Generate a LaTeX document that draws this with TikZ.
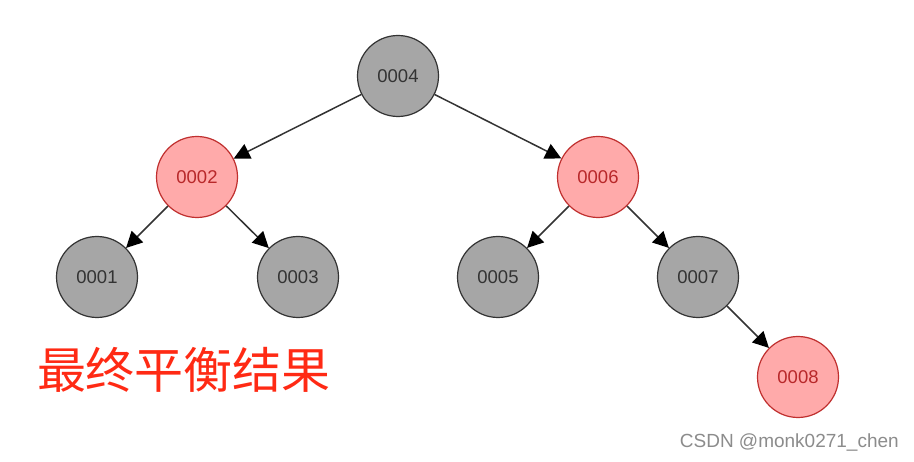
\documentclass[tikz,border=0pt]{standalone}
\usepackage{fontspec}
\setmainfont{Liberation Sans}
\newfontfamily\cjk{Noto Sans CJK SC}
\usetikzlibrary{arrows.meta}
\definecolor{blackfill}{HTML}{A6A6A6}
\definecolor{redfill}{HTML}{FFAAAA}
\definecolor{redline}{HTML}{C0302F}
\definecolor{redtext}{HTML}{B8282A}
\definecolor{edgecol}{HTML}{333333}
\definecolor{titlered}{HTML}{FF2A14}
\begin{document}
\begin{tikzpicture}[x=1pt,y=-1pt,
  bnode/.style={circle,draw=edgecol,line width=1.2pt,fill=blackfill,minimum size=81pt,inner sep=0pt,font=\fontsize{18.5}{18.5}\selectfont,text=black!80},
  rnode/.style={circle,draw=redline,line width=1.2pt,fill=redfill,minimum size=81pt,inner sep=0pt,font=\fontsize{18.5}{18.5}\selectfont,text=redtext},
  edge/.style={draw=edgecol,line width=1.5pt,-{Triangle[length=16pt,width=16pt,fill=black,color=black]}}]
\useasboundingbox[fill=white] (0,0) rectangle (914,462);
\node[bnode] (n4) at (398,76) {0004};
\node[rnode] (n2) at (197,177) {0002};
\node[rnode] (n6) at (598,177) {0006};
\node[bnode] (n1) at (97,277) {0001};
\node[bnode] (n3) at (298,277) {0003};
\node[bnode] (n5) at (498,277) {0005};
\node[bnode] (n7) at (698,277) {0007};
\node[rnode] (n8) at (798,377) {0008};
\draw[edge] (n4) -- (n2);
\draw[edge] (n4) -- (n6);
\draw[edge] (n2) -- (n1);
\draw[edge] (n2) -- (n3);
\draw[edge] (n6) -- (n5);
\draw[edge] (n6) -- (n7);
\draw[edge] (n7) -- (n8);
\node[font=\cjk\fontsize{49}{49}\selectfont,text=titlered,inner sep=0pt] (title) at (184,370) {最终平衡结果};
\node[font=\fontsize{19}{19}\selectfont,text=black!45,inner sep=0pt,anchor=east] (wm) at (899,443) {CSDN @monk0271\_chen};
\end{tikzpicture}
\end{document}
